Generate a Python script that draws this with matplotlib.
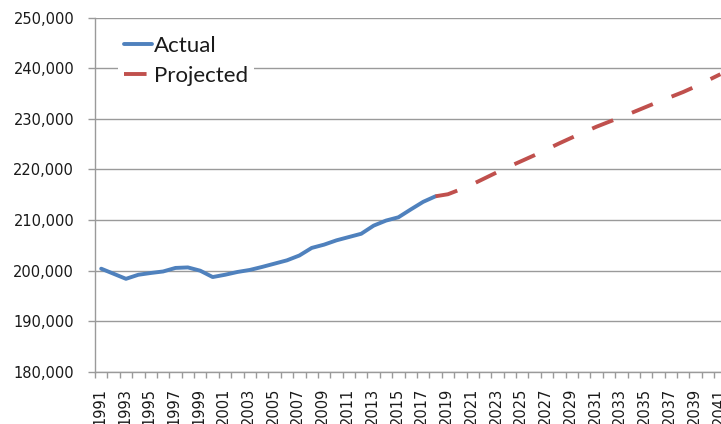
import matplotlib
matplotlib.use('Agg')
import matplotlib.pyplot as plt
import matplotlib.transforms as mtransforms
from matplotlib.ticker import FuncFormatter, FixedLocator

# ---- data ----
actual_years = list(range(1991, 2019))
actual_values = [200400, 199400, 198400, 199200, 199550, 199850, 200550, 200650, 200000, 198750,
                 199200, 199750, 200150, 200750, 201400, 202050, 203000, 204500, 205150, 206000,
                 206650, 207300, 208900, 209900, 210550, 212100, 213600, 214700]
projected_years = list(range(2018, 2042))
projected_values = [214700, 215100, 216050, 217100, 218290, 219480, 220630, 221720, 222820, 223990,
                    225160, 226280, 227360, 228440, 229400, 230350, 231340, 232350, 233360, 234320,
                    235290, 236390, 237600, 238800]
label_years = list(range(1991, 2042, 2))
y_ticks = list(range(180000, 250001, 10000))
series_names = ["Actual", "Projected"]

# ---- figure ----
W, H = 721, 424
fig = plt.figure(figsize=(W / 100, H / 100), dpi=100)
left_px, right_px, top_px, bottom_px = 95, 721, 17.5, 372
ax = fig.add_axes([left_px / W, 1 - bottom_px / H, (right_px - left_px) / W, (bottom_px - top_px) / H])

grid_c = '#9a9a9a'
blue = '#4F81BD'
red = '#C0504D'

ax.plot(actual_years, actual_values, color=blue, lw=2.8, solid_capstyle='round',
        solid_joinstyle='round', label=series_names[0], zorder=3)
ax.plot(projected_years, projected_values, color=red, lw=2.8, linestyle=(0, (5.8, 5.2)),
        dash_capstyle='butt', label=series_names[1], zorder=3)

ax.set_xlim(1990.5, 2041.05)
ax.set_ylim(180000, 250000)

ax.yaxis.set_major_locator(FixedLocator(y_ticks))
ax.yaxis.set_major_formatter(FuncFormatter(lambda v, p: f"{int(v):,}"))
ax.grid(axis='y', color=grid_c, lw=1.0, zorder=1)
ax.set_axisbelow(True)

ax.xaxis.set_major_locator(FixedLocator(label_years))
ax.set_xticklabels([str(y) for y in label_years], rotation=90)
ax.xaxis.set_minor_locator(FixedLocator([y + 0.5 for y in range(1990, 2042)]))

for s in ['top', 'right']:
    ax.spines[s].set_visible(False)
for s in ['left', 'bottom']:
    ax.spines[s].set_color(grid_c)
    ax.spines[s].set_linewidth(1.0)

ax.tick_params(axis='y', which='major', length=5, color=grid_c, width=1.0, pad=10,
               labelsize=10.5, labelcolor='#1a1a1a')
ax.tick_params(axis='x', which='major', length=0, pad=11.3, labelsize=10.5, labelcolor='#1a1a1a')
ax.tick_params(axis='x', which='minor', length=4.3, color=grid_c, width=1.0)

offset = mtransforms.ScaledTranslation(-1.5 / 100, 0, fig.dpi_scale_trans)
for lbl in ax.get_xticklabels():
    lbl.set_transform(lbl.get_transform() + offset)
    lbl.set_fontfamily('DejaVu Sans')
for lbl in ax.get_yticklabels():
    lbl.set_fontfamily('DejaVu Sans')

leg = ax.legend(loc='upper left', bbox_to_anchor=(118 / W, 1 - 30 / H),
                bbox_transform=fig.transFigure, borderaxespad=0, frameon=True,
                fancybox=False, framealpha=1, facecolor='white', edgecolor='none',
                prop={'family': 'Lato', 'size': 16}, handlelength=1.3, handletextpad=0.08,
                borderpad=0.25, labelspacing=0.45)
leg.set_zorder(5)
for t in leg.get_texts():
    t.set_color('#1a1a1a')

fig.savefig('out.png', dpi=100)
